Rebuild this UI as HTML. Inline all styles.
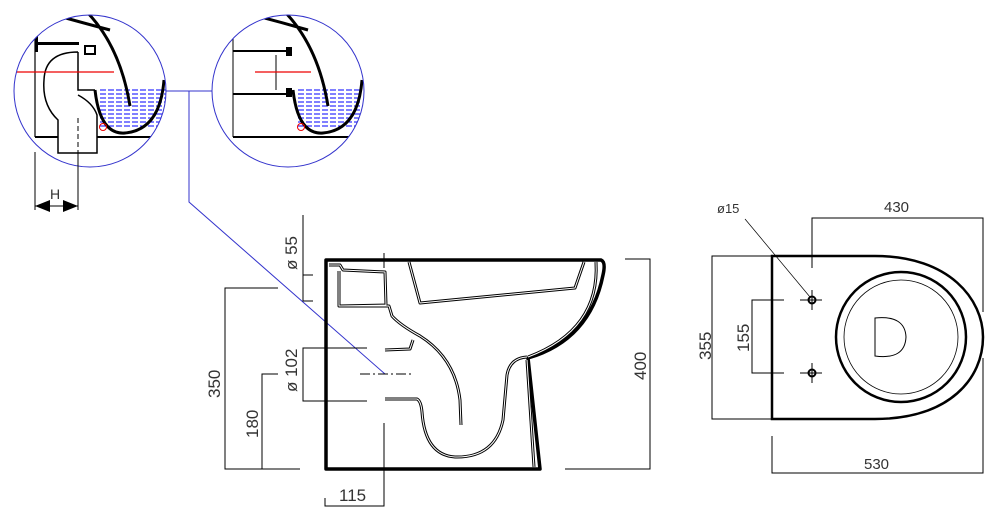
<!DOCTYPE html>
<html><head><meta charset="utf-8"><style>
html,body{margin:0;padding:0;background:#fff;}
svg{display:block}
text{font-family:"Liberation Sans",sans-serif;fill:#333;}
</style></head><body>
<svg width="989" height="510" viewBox="0 0 989 510" xmlns="http://www.w3.org/2000/svg">
<defs>
<clipPath id="c1"><circle cx="90" cy="91" r="76"/></clipPath>
<clipPath id="c2"><circle cx="288" cy="91" r="76"/></clipPath>
</defs>
<!-- Detail circle 1 -->
<g clip-path="url(#c1)">
  <g stroke="#00f" stroke-width="1" stroke-dasharray="6,2">
    <line x1="100" y1="90" x2="166" y2="90"/><line x1="100" y1="94" x2="166" y2="94"/><line x1="100" y1="98" x2="166" y2="98"/><line x1="100" y1="102" x2="166" y2="102"/><line x1="100" y1="106" x2="166" y2="106"/><line x1="100" y1="110" x2="166" y2="110"/><line x1="100" y1="114" x2="166" y2="114"/><line x1="100" y1="118" x2="166" y2="118"/><line x1="100" y1="122" x2="166" y2="122"/><line x1="100" y1="126" x2="166" y2="126"/>
  </g>
  <path d="M55,15 Q80,22 110,30 M85,10 Q120,45 130,106" fill="none" stroke="#000" stroke-width="3"/>
  <path d="M95,90 Q100,135 125,133 Q160,130 164,80" fill="none" stroke="#000" stroke-width="3"/>
  <line x1="35" y1="137" x2="166" y2="137" stroke="#000" stroke-width="2"/>
  <line x1="35" y1="35" x2="35" y2="137" stroke="#000" stroke-width="1.2"/>
  <rect x="35" y="42" width="44" height="3" fill="#000"/>
  <rect x="35" y="34" width="3" height="18" fill="#000"/>
  <path d="M78,52 L78,90 L95,90 M78,52 Q45,52 44,80 Q42,105 58,120 L58,153 L97,153 L97,115 Q93,103 78,95" fill="#fff" stroke="#000" stroke-width="1.5"/>
  <rect x="85" y="46" width="10" height="8" fill="none" stroke="#000" stroke-width="2"/>
  <line x1="15" y1="72" x2="114" y2="72" stroke="#e00" stroke-width="1.2"/>
  <circle cx="103" cy="127" r="3.5" fill="none" stroke="#e00"/>
  <line x1="78" y1="118" x2="78" y2="153" stroke="#000" stroke-dasharray="5,3"/>
</g>
<circle cx="90" cy="91" r="76" fill="none" stroke="#33c" stroke-width="1"/>
<!-- H dim -->
<line x1="35" y1="152" x2="35" y2="210" stroke="#000"/>
<line x1="78" y1="152" x2="78" y2="210" stroke="#000"/>
<line x1="35" y1="206" x2="78" y2="206" stroke="#000"/>
<path d="M35,206 L50,200 L50,212Z M78,206 L63,200 L63,212Z" fill="#000"/>
<text x="50" y="199" font-size="14">H</text>
<!-- Detail circle 2 -->
<g clip-path="url(#c2)">
  <g stroke="#00f" stroke-width="1" stroke-dasharray="6,2">
    <line x1="298" y1="90" x2="362" y2="90"/><line x1="298" y1="94" x2="362" y2="94"/><line x1="298" y1="98" x2="362" y2="98"/><line x1="298" y1="102" x2="362" y2="102"/><line x1="298" y1="106" x2="362" y2="106"/><line x1="298" y1="110" x2="362" y2="110"/><line x1="298" y1="114" x2="362" y2="114"/><line x1="298" y1="118" x2="362" y2="118"/><line x1="298" y1="122" x2="362" y2="122"/><line x1="298" y1="126" x2="362" y2="126"/>
  </g>
  <path d="M253,15 Q280,22 308,30 M283,10 Q318,45 328,106" fill="none" stroke="#000" stroke-width="3"/>
  <path d="M293,90 Q298,135 323,133 Q358,130 362,80" fill="none" stroke="#000" stroke-width="3"/>
  <line x1="233" y1="137" x2="364" y2="137" stroke="#000" stroke-width="2"/>
  <line x1="233" y1="35" x2="233" y2="137" stroke="#000" stroke-width="1"/>
  <line x1="233" y1="51" x2="290" y2="51" stroke="#000" stroke-width="2"/>
  <line x1="233" y1="94" x2="290" y2="94" stroke="#000" stroke-width="2"/>
  <line x1="276" y1="55" x2="276" y2="90" stroke="#000"/>
  <rect x="286" y="47" width="6" height="9" fill="#000"/>
  <rect x="286" y="88" width="6" height="9" fill="#000"/>
  <line x1="255" y1="72" x2="311" y2="72" stroke="#e00" stroke-width="1.2"/>
  <circle cx="301" cy="127" r="3.5" fill="none" stroke="#e00"/>
</g>
<circle cx="288" cy="91" r="76" fill="none" stroke="#33c" stroke-width="1"/>
<!-- blue connector -->
<path d="M166,91 L212,91 M189,91 L189,202 L385,374" fill="none" stroke="#33c" stroke-width="1"/>
<!-- side view -->
<path d="M326,260 L601,260 Q606,262 603,275 Q590,340 528,358 L540,469 L326,469 Z" fill="none" stroke="#000" stroke-width="3.5" stroke-linejoin="round"/>
<g fill="none" stroke-linejoin="round">
 <g stroke="#000" stroke-width="3">
  <path d="M329,265 L340,265 L343,270 L385,272 L386,305 L339,306 L339,271"/>
  <path d="M409,262 L420,303 L575,288 L584,262"/>
  <path d="M596,262 Q600,330 528,357"/>
  <path d="M339,306 L389,306 L392,316 Q400,325 420,336 Q455,358 460,400 L461,425"/>
  <path d="M385,350 L410,349 L413,340"/>
  <path d="M385,399 L417,399 Q421,401 422,412 Q425,455 455,457 Q495,458 503,420 L507,375 Q510,358 527,357"/>
  <path d="M527,360 L534,467"/>
 </g>
 <g stroke="#fff" stroke-width="1">
  <path d="M329,265 L340,265 L343,270 L385,272 L386,305 L339,306 L339,271"/>
  <path d="M409,262 L420,303 L575,288 L584,262"/>
  <path d="M596,262 Q600,330 528,357"/>
  <path d="M339,306 L389,306 L392,316 Q400,325 420,336 Q455,358 460,400 L461,425"/>
  <path d="M385,350 L410,349 L413,340"/>
  <path d="M385,399 L417,399 Q421,401 422,412 Q425,455 455,457 Q495,458 503,420 L507,375 Q510,358 527,357"/>
  <path d="M527,360 L534,467"/>
 </g>
</g>
<!-- side dims -->
<g stroke="#000" stroke-width="1" fill="none">
 <path d="M278,288 L225,288 L225,469 L300,469"/>
 <path d="M278,374 L262,374 L262,469"/>
 <path d="M303,215 L303,301 L313,301 M303,275 L313,275"/>
 <path d="M367,348 L303,348 L303,401 L367,401"/>
 <path d="M360,374 L412,374" stroke-dasharray="10,3,2,3"/>
 <path d="M384,253 L384,268 M384,423 L384,506 L325,506 L325,498"/>
 <path d="M625,259 L650,259 L650,469 L565,469"/>
</g>
<text font-size="17" transform="translate(297,270) rotate(-90)">ø 55</text>
<text font-size="17" transform="translate(297,392) rotate(-90)">ø 102</text>
<text font-size="17" transform="translate(220,398) rotate(-90)">350</text>
<text font-size="17" transform="translate(258,438) rotate(-90)">180</text>
<text font-size="17" transform="translate(646,380) rotate(-90)">400</text>
<text font-size="17" x="339" y="501">115</text>
<!-- top view -->
<path d="M772,256 L875,256 C950,256 983,300 983,337 C983,378 950,419 875,419 L772,419 Z" fill="none" stroke="#000" stroke-width="2.5"/>
<circle cx="901" cy="337" r="65" fill="none" stroke="#000" stroke-width="2.5"/>
<circle cx="901" cy="337" r="57" fill="none" stroke="#000" stroke-width="0.8"/>
<path d="M875,318 Q905,315 906,337 Q905,360 875,356 Z" fill="none" stroke="#000" stroke-width="1"/>
<g stroke="#000" stroke-width="1" fill="none">
 <circle cx="812" cy="300" r="3.5" stroke-width="2"/><circle cx="812" cy="373" r="3.5" stroke-width="2"/>
 <path d="M800,300 L822,300 M812,290 L812,310 M800,373 L822,373 M812,363 L812,383"/>
 <path d="M772,256 L712,256 L712,419 L772,419"/>
 <path d="M784,300 L752,300 L752,373 L784,373"/>
 <path d="M812,268 L812,218 L983,218 L983,312"/>
 <path d="M983,358 L983,473 L772,473 L772,436"/>
 <path d="M745,219 L810,297" stroke-width="0.7"/>
</g>
<text font-size="13" x="717" y="213">ø15</text>
<text font-size="15" x="884" y="212">430</text>
<text font-size="15" x="864" y="469">530</text>
<text font-size="17" transform="translate(711,360) rotate(-90)">355</text>
<text font-size="17" transform="translate(749,352) rotate(-90)">155</text>
</svg>
</body></html>
